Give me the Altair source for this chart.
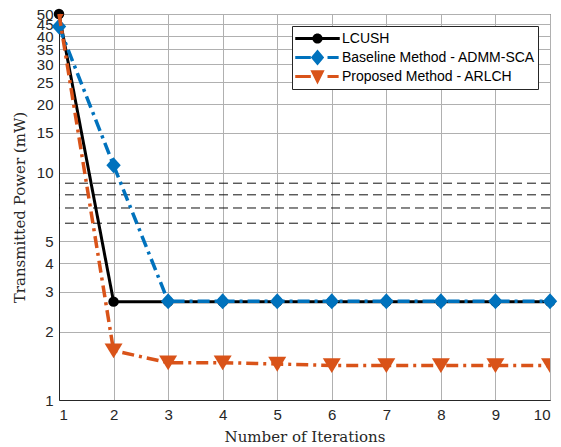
import altair as alt
import pandas as pd

iterations = [1, 2, 3, 4, 5, 6, 7, 8, 9, 10]
lcush = [50, 2.71, 2.71, 2.71, 2.71, 2.71, 2.71, 2.71, 2.71, 2.71]
baseline = [44, 10.8, 2.72, 2.72, 2.72, 2.72, 2.72, 2.72, 2.72, 2.72]
proposed = [50, 1.65, 1.46, 1.46, 1.44, 1.42, 1.42, 1.42, 1.42, 1.42]

series_names = ["LCUSH", "Baseline Method - ADMM-SCA", "Proposed Method - ARLCH"]
series_values = [lcush, baseline, proposed]
series_colors = ["#000000", "#0072BD", "#D95319"]

y_ticks = [1, 2, 3, 4, 5, 10, 15, 20, 25, 30, 35, 40, 45, 50]
x_ticks = [1, 2, 3, 4, 5, 6, 7, 8, 9, 10]
minor_grid = [6, 7, 8, 9]

rows = []
for name, vals in zip(series_names, series_values):
    for x, v in zip(iterations, vals):
        rows.append({"series": name, "x": x, "y": v})
df = pd.DataFrame(rows)
minor_df = pd.DataFrame({"v": minor_grid})

# styles
dash_styles = [[1, 0], [12, 5, 3, 5], [12, 5, 3, 5]]
widths = [3, 3.5, 3.5]
marker_shapes = [
    "circle",
    "M0,-1L0.9,0L0,1L-0.9,0Z",
    "M-1,-0.8L1,-0.8L0,0.85Z",
]
marker_sizes = [110, 256, 324]
marker_clip = [False, False, True]
legend_paths = [
    "M-1,-0.067H1V0.067H-1Z M-0.23,0A0.23,0.23 0 1,1 0.23,0A0.23,0.23 0 1,1 -0.23,0Z",
    "M-1,-0.067H-0.3V0.067H-1Z M0.45,-0.067H0.95V0.067H0.45Z M0,-0.36L0.3,0L0,0.36L-0.3,0Z",
    "M-1,-0.067H-0.3V0.067H-1Z M0.45,-0.067H0.95V0.067H0.45Z M-0.32,-0.28H0.32L0,0.36Z",
]

xscale = alt.Scale(domain=[1, 10], nice=False, zero=False)
yscale = alt.Scale(type="log", domain=[1, 50], nice=False)

x_enc = alt.X(
    "x:Q",
    scale=xscale,
    axis=alt.Axis(
        values=x_ticks,
        format="d",
        title="Number of Iterations",
        grid=True,
        ticks=False,
        labelPadding=7,
        titlePadding=7,
    ),
)
y_enc = alt.Y(
    "y:Q",
    scale=yscale,
    axis=alt.Axis(
        values=y_ticks,
        format="d",
        title="Transmitted Power (mW)",
        grid=True,
        ticks=False,
        labelPadding=6,
        titlePadding=9,
        labelOverlap=False,
    ),
)

layers = []
layers.append(
    alt.Chart(minor_df)
    .mark_rule(strokeDash=[9, 5], color="#111111", strokeWidth=1)
    .encode(y=alt.Y("v:Q", scale=yscale))
)

for i, name in enumerate(series_names):
    base = alt.Chart(df).transform_filter(alt.datum.series == name)
    layers.append(
        base.mark_line(
            color=series_colors[i],
            strokeWidth=widths[i],
            strokeDash=dash_styles[i],
        ).encode(x=x_enc, y=y_enc)
    )
    layers.append(
        base.mark_point(
            filled=True,
            opacity=1,
            color=series_colors[i],
            shape=marker_shapes[i],
            size=marker_sizes[i],
            clip=marker_clip[i],
        ).encode(x=x_enc, y=y_enc)
    )

legend = alt.Legend(
    orient="none",
    legendX=233,
    legendY=12,
    title=None,
    strokeColor="#262626",
    fillColor="white",
    padding=3,
    symbolSize=1980,
    clipHeight=19,
    rowPadding=0,
    labelFontSize=14,
    labelFont="Liberation Sans",
    labelColor="#000000",
    labelOffset=2,
    labelLimit=0,
    symbolStrokeWidth=0,
)

layers.append(
    alt.Chart(df)
    .transform_filter("datum.x < 0")
    .mark_point(filled=True, opacity=1)
    .encode(
        x=x_enc,
        y=y_enc,
        color=alt.Color(
            "series:N",
            scale=alt.Scale(domain=series_names, range=series_colors),
            legend=legend,
        ),
        shape=alt.Shape(
            "series:N",
            scale=alt.Scale(domain=series_names, range=legend_paths),
            legend=legend,
        ),
    )
)

chart = (
    alt.layer(*layers)
    .properties(
        width=491,
        height=386,
        padding={"left": 59, "top": 14, "right": 11, "bottom": 47},
        autosize=alt.AutoSizeParams(type="none"),
        background="white",
    )
    .configure_view(stroke="#262626", strokeWidth=1)
    .configure_axis(
        gridColor="#b0b0b0",
        gridOpacity=1,
        gridWidth=1,
        domainColor="#262626",
        labelFont="Liberation Sans",
        labelFontSize=15,
        labelColor="#262626",
        titleFont="DejaVu Serif",
        titleFontSize=15,
        titleFontWeight="normal",
        titleColor="#262626",
    )
)

chart.save("out.html", embed_options={"renderer": "svg", "actions": False})
